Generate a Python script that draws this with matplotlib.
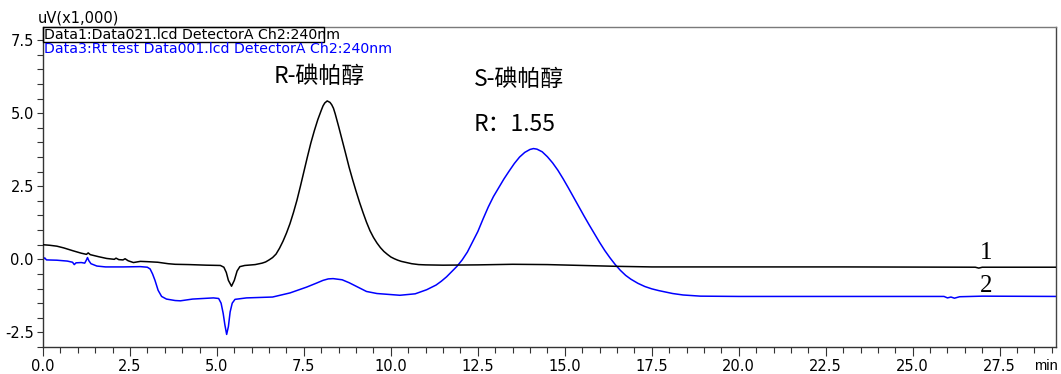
import matplotlib
matplotlib.use("Agg")
import matplotlib.pyplot as plt
from matplotlib.patches import Rectangle
from matplotlib.ticker import MultipleLocator

plt.rcParams['font.family'] = ['DejaVu Sans']

# Chromatogram 1 (Data021) - retention time (min) and signal (uV x1000)
trace1_t = [0.0, 0.2, 0.4, 0.6, 0.87, 1.1, 1.25, 1.3, 1.36, 1.6, 1.83, 2.05, 2.1, 2.18,
            2.3, 2.36, 2.45, 2.6, 2.8, 3.0, 3.3, 3.6, 3.8, 4.2, 4.7, 5.1, 5.2, 5.27,
            5.33, 5.42, 5.5, 5.58, 5.66, 5.8, 6.1, 6.3, 6.4, 6.5, 6.6, 6.7, 6.8, 6.9,
            7.0, 7.1, 7.2, 7.3, 7.4, 7.5, 7.6, 7.7, 7.8, 7.9, 8.0, 8.05, 8.1, 8.17,
            8.25, 8.3, 8.35, 8.4, 8.5, 8.6, 8.7, 8.8, 8.9, 9.0, 9.1, 9.2, 9.3, 9.4,
            9.5, 9.6, 9.7, 9.8, 9.9, 10.0, 10.1, 10.2, 10.3, 10.45, 10.6, 10.8, 11.0,
            11.5, 12.5, 13.5, 14.5, 15.5, 16.5, 17.5, 20.0, 23.0, 26.8, 26.9, 27.0, 29.2]
trace1_v = [0.50, 0.48, 0.45, 0.39, 0.29, 0.21, 0.17, 0.22, 0.16, 0.09, 0.03, 0.00, 0.04, -0.01,
            -0.02, 0.02, -0.05, -0.11, -0.07, -0.08, -0.10, -0.15, -0.17, -0.18, -0.20, -0.21, -0.27, -0.45,
            -0.72, -0.92, -0.72, -0.40, -0.25, -0.21, -0.18, -0.13, -0.09, -0.02, 0.06, 0.18, 0.38, 0.62,
            0.90, 1.22, 1.60, 2.02, 2.50, 3.00, 3.50, 3.98, 4.40, 4.78, 5.10, 5.25, 5.35, 5.42,
            5.37, 5.29, 5.17, 4.98, 4.54, 4.08, 3.62, 3.15, 2.73, 2.33, 1.95, 1.60, 1.27, 0.98,
            0.75, 0.56, 0.40, 0.27, 0.17, 0.08, 0.02, -0.03, -0.07, -0.11, -0.15, -0.18, -0.19,
            -0.20, -0.19, -0.17, -0.18, -0.21, -0.24, -0.26, -0.26, -0.26, -0.27, -0.30, -0.27, -0.27]

# Chromatogram 2 (Rt test Data001)
trace2_t = [0.0, 0.05, 0.1, 0.4, 0.7, 0.85, 0.9, 0.95, 1.1, 1.2, 1.25, 1.28, 1.32, 1.38,
            1.55, 1.8, 2.3, 2.8, 3.0, 3.08, 3.15, 3.22, 3.31, 3.41, 3.55, 3.8, 3.95, 4.3,
            4.9, 5.05, 5.12, 5.18, 5.23, 5.28, 5.33, 5.38, 5.44, 5.52, 5.85, 6.6, 7.1,
            7.58, 7.85, 8.05, 8.2, 8.34, 8.6, 8.8, 9.0, 9.3, 9.6, 10.26, 10.7, 11.03,
            11.3, 11.45, 11.6, 11.75, 11.9, 12.05, 12.2, 12.35, 12.5, 12.65, 12.8, 12.95,
            13.1, 13.25, 13.4, 13.55, 13.7, 13.85, 14.0, 14.1, 14.2, 14.35, 14.5, 14.65,
            14.8, 14.95, 15.1, 15.25, 15.4, 15.55, 15.7, 15.85, 16.0, 16.15, 16.3, 16.45,
            16.6, 16.75, 16.9, 17.1, 17.3, 17.5, 17.7, 17.9, 18.1, 18.4, 18.9, 20.0, 23.0,
            25.9, 26.0, 26.1, 26.2, 26.35, 27.0, 29.2]
trace2_v = [-0.01, 0.05, -0.02, -0.03, -0.06, -0.10, -0.18, -0.12, -0.11, -0.13, -0.02, 0.06, -0.05, -0.15,
            -0.23, -0.26, -0.26, -0.25, -0.27, -0.33, -0.50, -0.72, -1.06, -1.27, -1.36, -1.41, -1.42, -1.36,
            -1.32, -1.34, -1.50, -1.85, -2.25, -2.57, -2.30, -1.80, -1.50, -1.37, -1.32, -1.29, -1.15,
            -0.95, -0.82, -0.72, -0.67, -0.66, -0.70, -0.80, -0.92, -1.10, -1.17, -1.23, -1.18, -1.04,
            -0.88, -0.75, -0.60, -0.42, -0.24, -0.02, 0.25, 0.60, 0.95, 1.38, 1.79, 2.15,
            2.45, 2.75, 3.02, 3.28, 3.50, 3.66, 3.76, 3.79, 3.77, 3.68, 3.51, 3.30,
            3.05, 2.76, 2.45, 2.13, 1.81, 1.49, 1.18, 0.88, 0.58, 0.30, 0.05, -0.18,
            -0.38, -0.55, -0.68, -0.82, -0.93, -1.01, -1.07, -1.12, -1.17, -1.22, -1.26, -1.27, -1.27,
            -1.27, -1.32, -1.29, -1.33, -1.28, -1.26, -1.27]

x_ticks = [0.0, 2.5, 5.0, 7.5, 10.0, 12.5, 15.0, 17.5, 20.0, 22.5, 25.0, 27.5]
y_ticks = [-2.5, 0.0, 2.5, 5.0, 7.5]

legend_lines = ["Data1:Data021.lcd DetectorA Ch2:240nm",
                "Data3:Rt test Data001.lcd DetectorA Ch2:240nm"]
peak_labels = ["R-碘帕醇", "S-碘帕醇"]
resolution_label = "R：1.55"

fig = plt.figure(figsize=(10.61, 3.74), dpi=100)
ax = fig.add_axes([0.0405, 0.0722, 0.9548, 0.8556])

ax.plot(trace1_t, trace1_v, color='black', lw=1.1, zorder=3)
ax.plot(trace2_t, trace2_v, color='#0000ff', lw=1.1, zorder=2)

ax.set_xlim(0, 29.12)
ax.set_ylim(-3.0, 7.95)
ax.set_xticks(x_ticks)
ax.set_xticklabels([f"{v:.1f}" for v in x_ticks])
ax.set_yticks(y_ticks)
ax.set_yticklabels([f"{v:.1f}" for v in y_ticks])
ax.xaxis.set_minor_locator(MultipleLocator(0.5))
ax.yaxis.set_minor_locator(MultipleLocator(0.5))
ax.tick_params(axis='x', which='major', length=6.5, width=0.8, color='#333333',
               labelsize=10.5, pad=2)
ax.tick_params(axis='x', which='minor', length=4, width=0.8, color='#333333')
ax.tick_params(axis='y', which='major', length=4.5, width=0.8, color='#333333',
               labelsize=10.5, pad=2)
ax.tick_params(axis='y', which='minor', length=4.5, width=0.8, color='#333333')

for side, col in [('left', '#333333'), ('bottom', '#333333'),
                  ('top', '#7a7a7a'), ('right', '#444444')]:
    ax.spines[side].set_color(col)
    ax.spines[side].set_linewidth(1.0)

# Axis units
ax.text(-0.005, 1.028, "uV(x1,000)", transform=ax.transAxes, fontsize=10.5,
        ha='left', va='center')
ax.text(1.002, -0.059, "min", transform=ax.transAxes, fontsize=10.5,
        family=['Liberation Sans', 'DejaVu Sans'], ha='right', va='center')

# Data file captions with box around the first
ax.add_patch(Rectangle((0.0, 0.953), 0.2774, 0.047, transform=ax.transAxes,
                       fill=False, edgecolor='black', lw=1.0, clip_on=False, zorder=5))
ax.text(0.001, 0.975, legend_lines[0], transform=ax.transAxes, fontsize=10.2,
        color='black', ha='left', va='center', zorder=6)
ax.text(0.001, 0.931, legend_lines[1], transform=ax.transAxes, fontsize=10.2,
        color='#0000ff', ha='left', va='center', zorder=6)

# Peak annotations
cjk = ['Noto Sans CJK SC', 'DejaVu Sans']
ax.text(6.62, 6.25, peak_labels[0], family=cjk, fontsize=16.5, ha='left', va='center')
ax.text(12.38, 6.15, peak_labels[1], family=cjk, fontsize=16.5, ha='left', va='center')
ax.text(12.38, 4.62, resolution_label, family=cjk, fontsize=16.5, ha='left', va='center')

# Trace numbers
serif = ['Liberation Serif', 'DejaVu Serif']
ax.text(27.1, 0.22, "1", family=serif, fontsize=18, ha='center', va='center')
ax.text(27.1, -0.92, "2", family=serif, fontsize=18, ha='center', va='center')

fig.savefig("out.png", dpi=100)
